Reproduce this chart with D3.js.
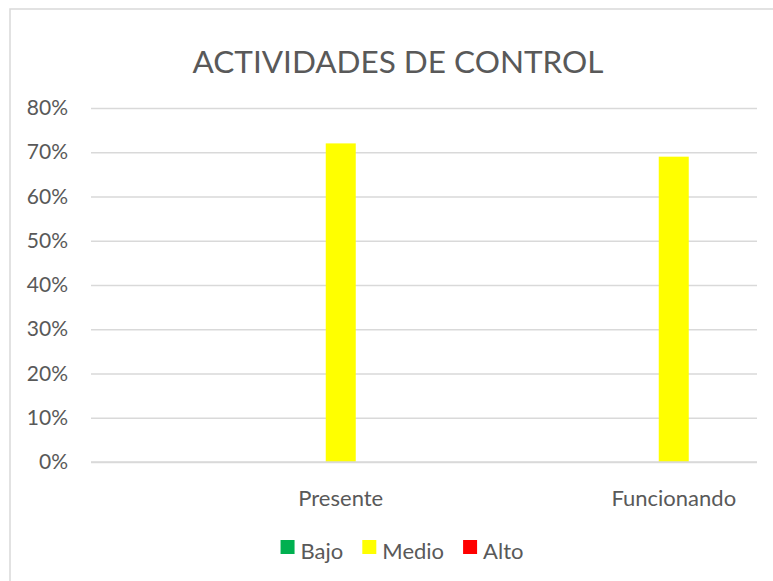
<!DOCTYPE html>
<html>
<head>
<meta charset="utf-8">
<script src="https://cdnjs.cloudflare.com/ajax/libs/d3/7.8.5/d3.min.js"></script>
<style>
body { margin: 0; background: #fff; }
text { font-family: Lato, "Open Sans", sans-serif; fill: #595959; }
</style>
</head>
<body>
<div id="chart"></div>
<script>
// Data
var categories = ["", "Presente", " ", "Funcionando"];
var seriesNames = ["Bajo", "Medio", "Alto"];
var seriesColors = ["#00B050", "#FFFF00", "#FF0000"];
var bajo = [0, 0, 0, 0];
var medio = [0, 0.72, 0, 0.69];
var alto = [0, 0, 0, 0];
var yTicks = [0, 0.1, 0.2, 0.3, 0.4, 0.5, 0.6, 0.7, 0.8];
var seriesValues = [bajo, medio, alto];

var width = 773, height = 581;

var svg = d3.select("#chart").append("svg")
	.attr("width", width)
	.attr("height", height);

// chart border
svg.append("rect")
	.attr("x", 10).attr("y", 9)
	.attr("width", 800).attr("height", 620)
	.style("fill", "none")
	.style("stroke", "#d9d9d9")
	.style("stroke-width", 1.5);

//Define scales
var xScale = d3.scaleBand().domain(categories).range([91, 757]);
var xInner = d3.scaleBand().domain(seriesNames).range([0, xScale.bandwidth()]).paddingInner(0).paddingOuter(1.275);
var yScale = d3.scaleLinear().domain([0, 0.8]).range([462, 108]);

// title
svg.append("text")
	.attr("x", 398).attr("y", 73)
	.style("font-size", "31.5px")
	.style("text-anchor", "middle")
	.text("ACTIVIDADES DE CONTROL");

// gridlines + y labels
var yAxis = d3.axisLeft(yScale)
	.tickValues(yTicks)
	.tickSize(-(757 - 91))
	.tickPadding(23)
	.tickFormat(d3.format(".0%"));

var yG = svg.append("g")
	.attr("transform", "translate(91,0)")
	.call(yAxis);
yG.select(".domain").remove();
yG.selectAll(".tick line")
	.style("stroke", "#d9d9d9")
	.style("stroke-width", 1.5);
yG.selectAll(".tick text")
	.style("font-size", "21px")
	.style("fill", "#595959")
	.style("font-family", "Lato, sans-serif");

// bars
seriesNames.forEach(function(s, si) {
	svg.selectAll(".bar" + si)
		.data(seriesValues[si])
		.enter()
		.append("rect")
			.attr("class", "bar" + si)
			.attr("x", function(d, i) { return xScale(categories[i]) + xInner(s); })
			.attr("y", function(d) { return yScale(d); })
			.attr("width", xInner.bandwidth())
			.attr("height", function(d) { return yScale(0) - yScale(d); })
			.style("fill", seriesColors[si]);
});

// category labels
var xAxis = d3.axisBottom(xScale).tickSize(0).tickPadding(28);
var xG = svg.append("g")
	.attr("transform", "translate(0,462)")
	.call(xAxis);
xG.select(".domain").remove();
xG.selectAll(".tick text")
	.style("font-size", "22px")
	.style("fill", "#595959")
	.style("font-family", "Lato, sans-serif");

// baseline over the bars
svg.append("line")
	.attr("x1", 91).attr("x2", 757)
	.attr("y1", yScale(0)).attr("y2", yScale(0))
	.style("stroke", "#d9d9d9")
	.style("stroke-width", 1.5);

//Color key
var legend = svg.append("g");
var lx = 0;
seriesNames.forEach(function(s, si) {
	legend.append("rect")
		.attr("x", lx).attr("y", 540)
		.attr("width", 14).attr("height", 14)
		.style("fill", seriesColors[si]);
	var t = legend.append("text")
		.attr("x", lx + 20).attr("y", 559)
		.style("font-size", "22px")
		.text(s);
	lx += 20 + t.node().getComputedTextLength() + 19;
});
lx -= 19;
legend.attr("transform", "translate(" + (402 - lx / 2) + ",0)");
</script>
</body>
</html>
